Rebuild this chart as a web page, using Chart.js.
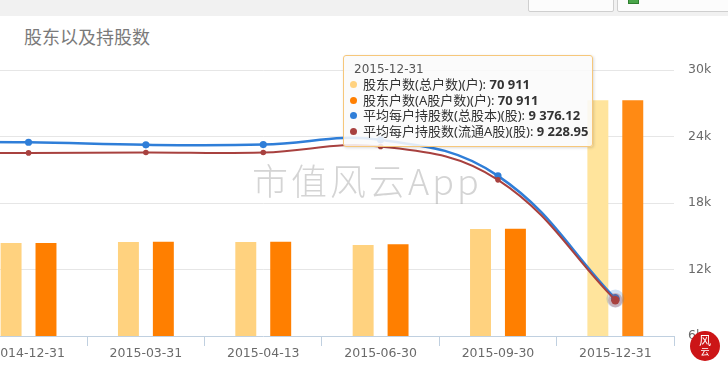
<!DOCTYPE html>
<html><head><meta charset="utf-8">
<script src="https://cdn.jsdelivr.net/npm/chart.js@4"></script>
<style>
html,body{margin:0;padding:0;background:#fff;width:728px;height:370px;overflow:hidden;position:relative;font-family:"Noto Sans","Noto Sans CJK SC",sans-serif;}
#band{position:absolute;left:0;top:0;width:728px;height:16px;background:#f1f1f1;}
.btn{position:absolute;top:-8px;height:18px;background:#fcfcfc;border:1px solid #cfcfcf;border-radius:2px;}
.xl{position:absolute;left:10px;top:1px;width:9px;height:8px;background:#4aa64a;border:1px solid #2f7f2f;}
#title{position:absolute;left:24px;top:24px;font-family:"Noto Sans CJK SC";font-size:18px;color:#7a7a7a;line-height:24px;}
#wrap{position:absolute;left:-152px;top:0;width:880px;height:370px;}
#wm{position:absolute;left:252px;top:157px;font-family:"Noto Sans CJK SC";font-weight:300;font-size:36px;color:rgba(160,160,160,0.45);letter-spacing:3px;white-space:nowrap;line-height:44px;z-index:3;}
#tt{position:absolute;left:343px;top:55px;width:234px;padding:6px 8px 7px 6px;background:rgba(250,250,250,0.88);border:1px solid #F6C77B;border-radius:3px;box-shadow:1px 1px 3px rgba(0,0,0,0.15);font-family:"Noto Sans","Noto Sans CJK SC",sans-serif;font-size:13px;line-height:15.4px;color:#333;z-index:5;white-space:nowrap;opacity:0;}
.tt-title{font-family:"DejaVu Sans";font-size:12px;color:#555;margin-left:4px;}
.dot{display:inline-block;width:7px;height:7px;border-radius:50%;margin-right:6px;vertical-align:middle;position:relative;top:-1px;}
#logo{position:absolute;left:690px;top:331px;width:30px;height:30px;border-radius:50%;background:#CC1517;color:#fff;text-align:center;z-index:6;font-family:"Noto Sans CJK SC";}
#logo .a{position:absolute;left:0;top:2px;width:30px;font-size:12px;line-height:13px;}
#logo .b{position:absolute;left:0;top:15px;width:30px;font-size:9px;line-height:11px;}
</style>
</head>
<body>
<div id="band"></div>
<div class="btn" style="left:528px;width:84px;"></div>
<div class="btn" style="left:617px;width:120px;"><div class="xl"></div></div>
<div id="title">股东以及持股数</div>
<div id="wrap"><canvas id="c" width="880" height="370"></canvas></div>
<div id="wm">市值风云App</div>
<div id="tt"></div>
<div id="logo"><span class="a">风</span><span class="b">云</span></div>
<script>
const categories = ['2014-09-30','2014-12-31','2015-03-31','2015-04-13','2015-06-30','2015-09-30','2015-12-31'];
const holdersTotal = [28100, 27970, 28270, 28270, 27370, 32180, 70911];
const holdersA = [28150, 27970, 28360, 28360, 27580, 32270, 70911];
const avgSharesTotal = [23500, 23480, 23250, 23270, 23700, 20450, 9376.12];
const avgSharesFloat = [22500, 22520, 22550, 22550, 23100, 20090, 9228.95];
const rightTicks = [6000, 12000, 18000, 24000, 30000];
const barAxisRange = [0, 80000];
const seriesNames = ['股东户数(总户数)(户)', '股东户数(A股户数)(户)', '平均每户持股数(总股本)(股)', '平均每户持股数(流通A股)(股)'];

const C_LIGHT = '#FFD27F', C_LIGHT_H = '#FFE49C';
const C_ORANGE = '#FF7F00', C_ORANGE_H = '#FF8A14';
const C_BLUE = '#2F7ED8', C_RED = '#A8413F';
const AXIS_FONT = {family: 'DejaVu Sans', size: 12.5};

function fmt(v) {
  const s = String(v);
  const parts = s.split('.');
  const int = parts[0].replace(/\B(?=(\d{3})+(?!\d))/g, ' ');
  return parts.length > 1 ? int + '.' + parts[1] : int;
}

function externalTooltip(context) {
  const tooltip = context.tooltip;
  const el = document.getElementById('tt');
  if (tooltip.opacity === 0 || !tooltip.dataPoints) { el.style.opacity = 0; return; }
  const pts = tooltip.dataPoints.slice().sort((a, b) => a.datasetIndex - b.datasetIndex);
  let html = '<div class="tt-title">' + pts[0].label + '</div>';
  pts.forEach(p => {
    const ds = p.dataset;
    const col = ds.type === 'bar' ? ds.backgroundColor : ds.borderColor;
    html += '<div><span class="dot" style="background:' + col + '"></span>' + ds.label + ': <b>' + fmt(p.raw) + '</b></div>';
  });
  el.innerHTML = html;
  el.style.opacity = 1;
}

const chart = new Chart(document.getElementById('c'), {
  data: {
    labels: categories,
    datasets: [
      {type: 'bar', label: seriesNames[0], data: holdersTotal, yAxisID: 'yBars',
        backgroundColor: C_LIGHT, hoverBackgroundColor: C_LIGHT_H, borderWidth: 0,
        categoryPercentage: 0.595, barPercentage: 0.6, order: 2},
      {type: 'bar', label: seriesNames[1], data: holdersA, yAxisID: 'yBars',
        backgroundColor: C_ORANGE, hoverBackgroundColor: C_ORANGE_H, borderWidth: 0,
        categoryPercentage: 0.595, barPercentage: 0.6, order: 2},
      {type: 'line', label: seriesNames[2], data: avgSharesTotal, yAxisID: 'yAvg',
        borderColor: C_BLUE, backgroundColor: C_BLUE, borderWidth: 2.5, tension: 0.4,
        pointRadius: 3.6, pointBorderWidth: 0, pointHoverRadius: 4.5,
        pointHoverBorderWidth: 9, pointHoverBorderColor: 'rgba(47,126,216,0.22)',
        pointHoverBackgroundColor: C_BLUE, order: 1},
      {type: 'line', label: seriesNames[3], data: avgSharesFloat, yAxisID: 'yAvg',
        borderColor: C_RED, backgroundColor: C_RED, borderWidth: 2, tension: 0.4,
        pointRadius: 2.8, pointBorderWidth: 0, pointHoverRadius: 4.2,
        pointHoverBorderWidth: 6, pointHoverBorderColor: 'rgba(168,65,63,0.3)',
        pointHoverBackgroundColor: C_RED, order: 0}
    ]
  },
  options: {
    responsive: false, animation: false, events: [],
    layout: {padding: {top: 70, left: 0, right: 0, bottom: 0}},
    interaction: {mode: 'index', intersect: false},
    plugins: {legend: {display: false}, tooltip: {enabled: false, external: externalTooltip}},
    scales: {
      x: {
        type: 'category', offset: true,
        grid: {display: true, drawOnChartArea: false, drawTicks: true, tickLength: 10, offset: true, color: '#C0D0E0'},
        border: {display: true, color: '#C0D0E0'},
        ticks: {padding: 0, color: '#6a6a6a', font: AXIS_FONT, maxRotation: 0, autoSkip: false},
        afterFit: s => { s.height = 34; }
      },
      yAvg: {
        type: 'linear', position: 'right',
        min: rightTicks[0], max: rightTicks[rightTicks.length - 1],
        afterBuildTicks: s => { s.ticks = rightTicks.map(v => ({value: v})); },
        grid: {color: c => (c.tick && c.tick.value === rightTicks[0]) ? 'rgba(0,0,0,0)' : '#E6E6E6', drawTicks: false},
        border: {display: false},
        ticks: {padding: 14, color: '#6a6a6a', font: AXIS_FONT, callback: v => (v / 1000) + 'k'},
        afterFit: s => { s.width = 54; }
      },
      yBars: {type: 'linear', position: 'left', display: false, min: barAxisRange[0], max: barAxisRange[1]}
    }
  }
});

const last = categories.length - 1;
const active = [0, 1, 2, 3].map(i => ({datasetIndex: i, index: last}));
chart.setActiveElements(active);
chart.tooltip.setActiveElements(active, {x: 0, y: 0});
chart.update();
</script>
</body></html>
